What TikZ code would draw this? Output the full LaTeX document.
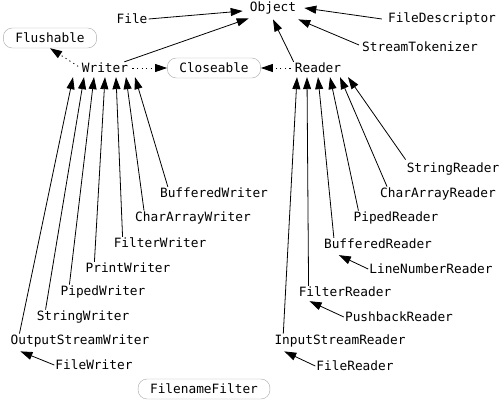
\documentclass[tikz,border=0pt]{standalone}
\usepackage{fontspec}
\setmonofont{DejaVu Sans Mono}
\usepackage{tikz}
\usetikzlibrary{arrows.meta}
\usetikzlibrary{positioning}

\tikzset{
    cls/.style={font=\ttfamily\fontsize{12.8}{14}\selectfont, inner sep=1pt},
    iface/.style={cls, draw=gray!70, rounded corners=9pt, minimum height=20pt, inner xsep=12pt},
    ext/.style={line width=0.8pt, -{Triangle[length=12pt,width=8pt]}},
    impl/.style={ext, dash pattern=on 1.2pt off 3.4pt, shorten <=3pt}
}

\begin{document}
\begin{tikzpicture}[x=1pt,y=-1pt]
                \useasboundingbox (0,0) rectangle (500,403);

                % top row
                \node[cls] (Object) at (273,8) {Object};
                \node[cls] (File) at (132,19) {File};
                \node[cls] (FileDescriptor) at (442,19) {FileDescriptor};
                \node[cls] (StreamTokenizer) at (420,47) {StreamTokenizer};

                % interfaces
                \node[iface] (Flushable) at (50,38) {Flushable};
                \node[iface] (Closeable) at (214,68) {Closeable};
                \node[iface] (FilenameFilter) at (204,389) {FilenameFilter};

                % abstract streams
                \node[cls] (Writer) at (105,68) {Writer};
                \node[cls] (Reader) at (318,68) {Reader};

                % writers
                \node[cls] (BufferedWriter) at (214,193) {BufferedWriter};
                \node[cls] (CharArrayWriter) at (193,218) {CharArrayWriter};
                \node[cls] (FilterWriter) at (160,243) {FilterWriter};
                \node[cls] (PrintWriter) at (128,268) {PrintWriter};
                \node[cls] (PipedWriter) at (103,292) {PipedWriter};
                \node[cls] (StringWriter) at (83,317) {StringWriter};
                \node[cls] (OutputStreamWriter) at (80,341) {OutputStreamWriter};
                \node[cls] (FileWriter) at (94,365) {FileWriter};

                % readers
                \node[cls] (StringReader) at (453,169) {StringReader};
                \node[cls] (CharArrayReader) at (438,194) {CharArrayReader};
                \node[cls] (PipedReader) at (396,218) {PipedReader};
                \node[cls] (BufferedReader) at (378,244) {BufferedReader};
                \node[cls] (LineNumberReader) at (431,269) {LineNumberReader};
                \node[cls] (FilterReader) at (345,292) {FilterReader};
                \node[cls] (PushbackReader) at (399,317) {PushbackReader};
                \node[cls] (InputStreamReader) at (340,341) {InputStreamReader};
                \node[cls] (FileReader) at (355,366) {FileReader};

                % arrow ends under Writer and Reader
                \coordinate (w1) at ([xshift=-32pt,yshift=-3pt]Writer.south);
                \coordinate (w2) at ([xshift=-21pt,yshift=-3pt]Writer.south);
                \coordinate (w3) at ([xshift=-11pt,yshift=-3pt]Writer.south);
                \coordinate (w4) at ([xshift=0pt,yshift=-3pt]Writer.south);
                \coordinate (w5) at ([xshift=11pt,yshift=-3pt]Writer.south);
                \coordinate (w6) at ([xshift=21pt,yshift=-3pt]Writer.south);
                \coordinate (w7) at ([xshift=30pt,yshift=-3pt]Writer.south);
                \coordinate (r1) at ([xshift=-21pt,yshift=-3pt]Reader.south);
                \coordinate (r2) at ([xshift=-11pt,yshift=-3pt]Reader.south);
                \coordinate (r3) at ([xshift=0pt,yshift=-3pt]Reader.south);
                \coordinate (r4) at ([xshift=12pt,yshift=-3pt]Reader.south);
                \coordinate (r5) at ([xshift=22pt,yshift=-3pt]Reader.south);
                \coordinate (r6) at ([xshift=30pt,yshift=-3pt]Reader.south);

                % to Object
                \draw[ext] (File.east) -- ([xshift=-6pt,yshift=-3pt]Object.west);
                \draw[ext] ([xshift=-5pt]Writer.north east) -- ([yshift=-3pt]Object.south west);
                \draw[ext] ([xshift=-5pt]FileDescriptor.west) -- ([xshift=7pt]Object.east);
                \draw[ext] ([xshift=-2pt,yshift=2pt]StreamTokenizer.west) -- ([xshift=1pt,yshift=-4pt]Object.south east);
                \draw[ext] (Reader.north west) -- ([yshift=-4pt]Object.south);

                % implemented interfaces
                \draw[impl] (Writer.west) -- (Flushable.south);
                \draw[impl] (Writer.east) -- (Closeable.west);
                \draw[impl] (Reader.west) -- (Closeable.east);

                % writer subclasses
                \draw[ext] ([xshift=10pt]OutputStreamWriter.north west) -- (w1);
                \draw[ext] ([xshift=10pt]StringWriter.north west) -- (w2);
                \draw[ext] ([xshift=10pt]PipedWriter.north west) -- (w3);
                \draw[ext] ([xshift=10pt]PrintWriter.north west) -- (w4);
                \draw[ext] ([xshift=10pt]FilterWriter.north west) -- (w5);
                \draw[ext] ([xshift=10pt]CharArrayWriter.north west) -- (w6);
                \draw[ext] ([xshift=9pt]BufferedWriter.north west) -- (w7);
                \draw[ext] (FileWriter.west) -- ([xshift=11pt,yshift=-3pt]OutputStreamWriter.south west);

                % reader subclasses
                \draw[ext] ([xshift=10pt]InputStreamReader.north west) -- (r1);
                \draw[ext] ([xshift=11pt]FilterReader.north west) -- (r2);
                \draw[ext] ([xshift=11pt]BufferedReader.north west) -- (r3);
                \draw[ext] ([xshift=6pt]PipedReader.north west) -- (r4);
                \draw[ext] ([xshift=8pt]CharArrayReader.north west) -- (r5);
                \draw[ext] ([yshift=2pt]StringReader.north west) -- (r6);
                \draw[ext] (LineNumberReader.west) -- ([xshift=16pt,yshift=-5pt]BufferedReader.south west);
                \draw[ext] (PushbackReader.west) -- ([xshift=12pt,yshift=-3pt]FilterReader.south west);
                \draw[ext] (FileReader.west) -- ([xshift=11pt,yshift=-3pt]InputStreamReader.south west);
\end{tikzpicture}
\end{document}
